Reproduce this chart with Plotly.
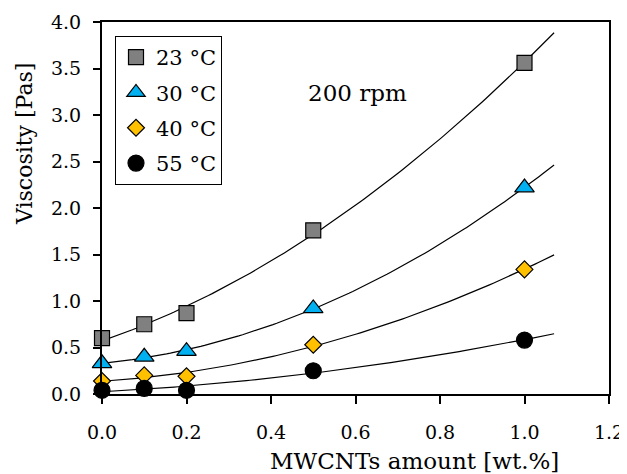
import numpy as np
import plotly.graph_objects as go

x_vals = [0.0, 0.1, 0.2, 0.5, 1.0]
v23 = [0.60, 0.75, 0.87, 1.76, 3.56]
v30 = [0.33, 0.40, 0.46, 0.92, 2.22]
v40 = [0.14, 0.20, 0.19, 0.53, 1.34]
v55 = [0.04, 0.06, 0.04, 0.25, 0.58]
labels = ["23 °C", "30 °C", "40 °C", "55 °C"]
series = [v23, v30, v40, v55]
x_ticks = [0, 0.2, 0.4, 0.6, 0.8, 1.0, 1.2]
x_ticktext = ["0.0", "0.2", "0.4", "0.6", "0.8", "1.0", "1.2"]
y_ticks = [0, 0.5, 1, 1.5, 2, 2.5, 3, 3.5, 4]
y_ticktext = ["0.0", "0.5", "1.0", "1.5", "2.0", "2.5", "3.0", "3.5", "4.0"]

symbols = ["square", "triangle-up", "diamond", "circle"]
colors = ["#808080", "#00B0F0", "#FFC000", "#000000"]
sizes = [15, 17, 13, 16]

FONT = "DejaVu Serif"
fig = go.Figure()

# polynomial (2nd order) trend lines fitted to the data
xfit = np.linspace(0, 1.07, 120)
for vals in series:
    c = np.polyfit(x_vals, vals, 2)
    fig.add_trace(go.Scatter(x=xfit, y=np.polyval(c, xfit), mode="lines",
                             line=dict(color="black", width=1.2),
                             showlegend=False, hoverinfo="skip", cliponaxis=False))

for i, (lab, vals) in enumerate(zip(labels, series)):
    fig.add_trace(go.Scatter(x=x_vals, y=vals, mode="markers", name=lab,
                             legendgroup=lab,
                             marker=dict(symbol=symbols[i], size=sizes[i], color=colors[i],
                                         line=dict(color="black", width=1.2)),
                             cliponaxis=False))

PL, PR, PT, PB = 102, 609, 22, 394  # plot area in page pixels
def px(xp):
    return (xp - PL) / (PR - PL)
def py(yp):
    return (PB - yp) / (PB - PT)

fig.update_layout(
    template="none",
    width=627, height=474,
    margin=dict(l=94, r=26, t=14, b=88, autoexpand=False),
    paper_bgcolor="white", plot_bgcolor="white",
    font=dict(family=FONT, size=19, color="black"),
    showlegend=True,
    legend=dict(x=px(115), y=py(36), xanchor="left", yanchor="top",
                bgcolor="white", bordercolor="black", borderwidth=1,
                font=dict(family=FONT, size=21, color="black"), tracegroupgap=5,
                itemwidth=30),
    xaxis=dict(range=[0, 1.2], tickmode="array", automargin=False,
               tickvals=x_ticks, ticktext=x_ticktext,
               ticks="outside", ticklen=8, tickwidth=1.5, tickcolor="black",
               ticklabelstandoff=12,
               showline=True, linecolor="black", linewidth=2, mirror=True,
               showgrid=False, zeroline=False,
               tickfont=dict(family=FONT, size=19, color="black")),
    yaxis=dict(range=[0, 4], tickmode="array", automargin=False,
               tickvals=y_ticks, ticktext=y_ticktext,
               ticks="outside", ticklen=7, tickwidth=1.5, tickcolor="black",
               ticklabelstandoff=8,
               showline=True, linecolor="black", linewidth=2, mirror=True,
               showgrid=False, zeroline=False,
               tickfont=dict(family=FONT, size=19, color="black")),
    annotations=[
        dict(text="200 rpm", x=px(357), y=py(93), xref="paper", yref="paper",
             xanchor="center", yanchor="middle",
             showarrow=False, font=dict(family=FONT, size=23, color="black")),
        dict(text="MWCNTs amount [wt.%]", x=px(414), y=py(461), xref="paper", yref="paper",
             xanchor="center", yanchor="middle",
             showarrow=False, font=dict(family=FONT, size=23, color="black")),
        dict(text="Viscosity [Pas]", x=px(24), y=py(144), xref="paper", yref="paper",
             xanchor="center", yanchor="middle",
             textangle=-90, showarrow=False, font=dict(family=FONT, size=22, color="black")),
    ],
    shapes=[dict(type="line", xref="paper", yref="paper",
                 x0=px(624), x1=px(624), y0=py(14), y1=py(480),
                 line=dict(color="#808080", width=1))],
)

fig.write_html("out.html")
